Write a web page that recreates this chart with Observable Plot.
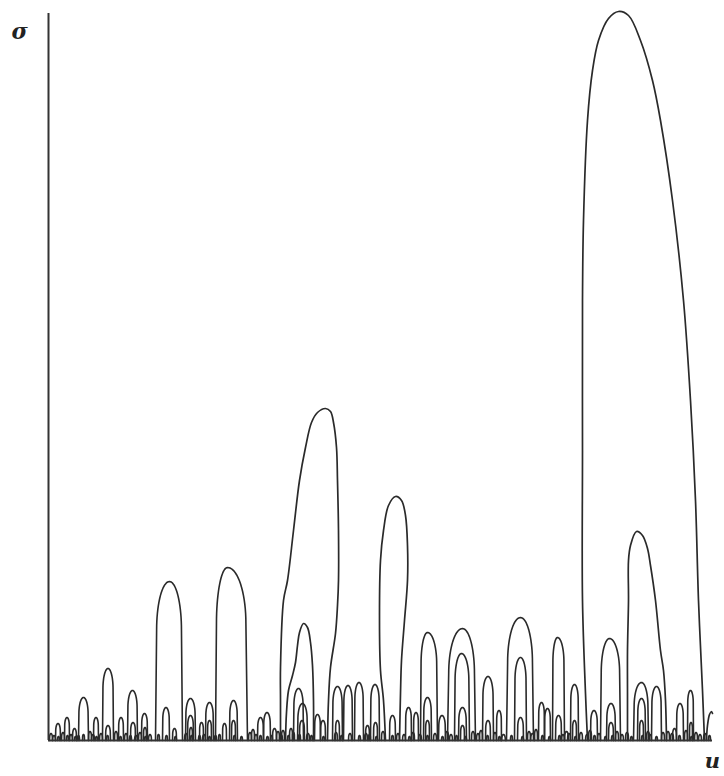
<!DOCTYPE html>
<html>
<head>
<meta charset="utf-8">
<script src="https://cdn.jsdelivr.net/npm/d3@7"></script>
<script src="https://cdn.jsdelivr.net/npm/@observablehq/plot@0.6"></script>
<style>
  html, body { margin: 0; padding: 0; background: #ffffff; }
  #chart svg { display: block; }
</style>
</head>
<body>
<div id="chart"></div>
<script>
// ---- data (u, sigma) ----
// medium arches: [uLeft, uRight, sigmaTop, uPeak (optional)]
const mediumArches = [
  [7,12,17],[16,21,23],[24,28,12],[30,40,43],[45,50,23],
  [54,65,72],[57,62,15],[70,75,23],[79,89,50],[82,87,18],
  [93,99,27],[95,98,13],
  [107,134,159,121],[114,121,33],[124,128,12],
  [137,147,42],[139,145,25],[141,144,13],
  [151,155,18],[157,165,38],[159,163,20],
  [167,199,173,179],[181,189,40],[183,187,20],[174,178,17],
  [209,215,23],[215,222,28],[224,228,12],
  [245,255,52],[249,259,37],[251,256,20],[266,272,26],[272,277,20],[241,244,12],
  [284,294,54],[287,291,20],[295,304,55],[306,315,58],[317,321,15],
  [322,331,56],[325,329,18],
  [341,347,25],[357,363,33],[365,370,28],
  [372,389,108,379],[375,383,43],[377,381,20],
  [390,397,25],
  [399,427,112,414],[406,421,87,413],[410,418,33],[412,416,15],
  [434,445,64],[437,442,20],[448,453,30],
  [458,485,123,472],[466,478,83],[469,475,23],
  [490,496,38],[496,502,32],
  [504,516,103,509],[507,513,25],
  [522,530,56],[524,528,20],
  [542,549,30],
  [552,572,102,561],[558,567,37],[560,565,18],
  [585,600,58,593],[589,597,42],[591,595,20],[603,613,54],
  [624,628,12],[628,635,37],[639,645,50],[641,644,18]
];

// tiny bumps along the baseline: [uLeft, uRight, sigmaTop]
const tinyArches = [
  [1,4,7],[4,7,5],[13,16,8],[21,24,6],[29,31,5],[40,43,9],[43,46,6],
  [51,54,7],[66,69,9],[76,79,7],[86,89,5],[90,93,8],[100,103,6],
  [136,139,7],[150,152,5],[154,157,6],[166,168,5],[200,203,8],
  [203,206,11],[206,209,6],[222,224,5],[228,231,9],[231,234,6],
  [233,236,10],[244,246,8],[258,261,7],[286,289,8],[300,303,7],
  [316,319,7],[320,322,6],[333,336,9],[348,351,7],[354,357,6],
  [363,366,8],[370,373,6],[385,388,7],[397,400,9],[401,404,6],
  [423,426,9],[428,431,7],[431,434,10],[445,448,8],[453,457,6],
  [479,482,9],[482,486,7],[486,489,11],[513,516,6],[516,520,9],
  [519,522,7],[531,534,8],[537,540,6],[540,543,10],[549,552,7],
  [567,570,9],[572,575,6],[577,580,8],[598,601,9],[600,603,6],
  [613,616,8],[618,621,9],[622,625,7],[636,639,10],[646,649,8],
  [650,653,6],[655,658,7],
  [9,11,4],[18,20,5],[26,28,4],[34,36,6],[47,49,4],[58,60,5],[71,73,4],
  [81,83,5],[96,98,4],[109,111,6],[117,119,5],[126,128,4],[142,144,5],
  [160,162,4],[170,172,6],[185,187,5],[192,194,4],[211,213,5],[218,220,4],
  [239,241,5],[250,252,6],[262,264,5],[274,276,4],[292,294,5],[310,312,5],
  [327,329,4],[343,345,5],[360,362,4],[378,380,5],[393,395,4],[407,409,5],
  [416,418,4],[438,440,5],[450,452,4],[462,464,5],[473,475,4],[493,495,5],
  [500,502,4],[510,512,5],[526,528,4],[545,547,5],[556,558,4],[563,565,5],
  [582,584,4],[593,595,5],[607,609,4],[630,632,5],[642,644,4],[660,662,5]
];

// large arches traced as outlines: [u, sigma]
const outlineE = [[539,0],[537,47],[534,140],[534,290],[534,440],[535,520],[539,620],[544,670],[550,700],[560,722],[570,729],[580,725],[592,700],[604,660],[612,620],[624,540],[635,440],[642,340],[647,240],[650,140],[654,50],[656,0]];
const outlineC = [[232,0],[232,40],[232,73],[235,140],[239,160],[245,210],[251,260],[257,293],[263,318],[269,328],[277,332],[282,329],[285,318],[288,293],[289,260],[290,210],[290,160],[289,135],[287,107],[282,73],[280,40],[279,0]];
const outlineD = [[337,0],[335,40],[332,70],[331,120],[332,180],[335,210],[340,235],[347,244],[353,240],[357,225],[359,195],[359,160],[356,120],[353,80],[352,47],[351,0]];
const outlineF = [[579,0],[579,47],[579,90],[580,140],[580,180],[582,195],[588,209],[594,205],[599,192],[602,175],[607,140],[612,90],[615,70],[617,40],[618,0]];
const outlineG = [[237,0],[238,28],[240,50],[244,65],[247,78],[249,95],[251,108],[255,117],[259,113],[262,98],[264,75],[265,40],[265,0]];
const outlineHook = [[658,1],[659,15],[661,26],[663,29],[664,27]];

const uMax = 664, sigmaMax = 727;

// ---- build arch outlines ----
function archPoints(a, id) {
  const [uL, uR, h, pkIn] = a;
  const pk = pkIn ?? (uL + uR) / 2;
  const hwL = pk - uL, hwR = uR - pk, hw = (hwL + hwR) / 2;
  const rv = Math.min(h, 2.4 * hw + 0.1 * h);
  const base = h - rv;
  const k = base > 0 ? 0.92 : 1;
  const pts = [];
  if (base > 0) pts.push({u: uR, s: 0});
  const N = 36;
  for (let i = 0; i <= N; i++) {
    const t = Math.PI * i / N, c = Math.cos(t);
    const w = c >= 0 ? hwR * k : hwL * k;
    pts.push({u: pk + w * c, s: base + rv * Math.sin(t)});
  }
  if (base > 0) pts.push({u: uL, s: 0});
  return pts.map(p => ({...p, id}));
}

const archData = [];
mediumArches.forEach((a, i) => archData.push(...archPoints(a, "m" + i)));
tinyArches.forEach((a, i) => archData.push(...archPoints(a, "t" + i)));

const outlineData = [];
[["E", outlineE], ["C", outlineC], ["D", outlineD], ["F", outlineF], ["G", outlineG], ["H", outlineHook]]
  .forEach(([id, arr]) => arr.forEach(([u, s]) => outlineData.push({u, s, id})));

const ink = "#2a2a2a";

const chart = Plot.plot({
  width: 724,
  height: 776,
  marginLeft: 48,
  marginRight: 12,
  marginTop: 10,
  marginBottom: 36,
  x: {domain: [0, uMax], axis: null},
  y: {domain: [0, 730], axis: null},
  style: {background: "#ffffff", overflow: "visible"},
  marks: [
    Plot.line(archData, {x: "u", y: "s", z: "id", stroke: ink, strokeWidth: 1.6, curve: "linear"}),
    Plot.line(outlineData, {x: "u", y: "s", z: "id", stroke: ink, strokeWidth: 1.7, curve: "catmull-rom"}),
    Plot.ruleX([0], {y1: 0, y2: sigmaMax, stroke: "#333", strokeWidth: 2}),
    Plot.ruleY([0], {x1: 0, x2: uMax, stroke: "#333", strokeWidth: 2}),
    Plot.text([{u: -29, s: 709, t: "σ"}], {x: "u", y: "s", text: "t", fontSize: 22, fontStyle: "italic", fontWeight: "bold", fontFamily: "DejaVu Serif, Liberation Serif, serif", fill: "#222"}),
    Plot.text([{u: 664, s: -21, t: "u"}], {x: "u", y: "s", text: "t", fontSize: 21, fontStyle: "italic", fontWeight: "bold", fontFamily: "DejaVu Serif, Liberation Serif, serif", fill: "#222"})
  ]
});
document.getElementById("chart").appendChild(chart);
</script>
</body>
</html>
